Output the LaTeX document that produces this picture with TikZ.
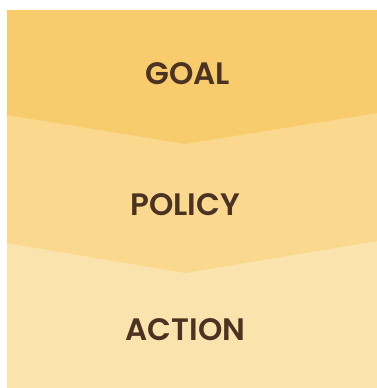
\documentclass[tikz,border=0pt]{standalone}
\usepackage{fontspec}
\setmainfont{Poppins}[BoldFont={Poppins SemiBold}]
\definecolor{cgoal}{HTML}{F8CC6C}
\definecolor{cpolicy}{HTML}{FAD98F}
\definecolor{caction}{HTML}{FBE3AD}
\definecolor{ctext}{HTML}{4A3322}
\begin{document}
\begin{tikzpicture}[x=1pt,y=-1pt,
  lbl/.style={inner sep=0pt,text=ctext,font=\fontsize{31}{35}\selectfont\bfseries}]
\useasboundingbox (0,0) rectangle (377,388);
\fill[caction] (7,10) rectangle (377,388);
\fill[cpolicy] (7,10) -- (377,10) -- (377,241) -- (185,273) -- (7,243) -- cycle;
\fill[cgoal] (7,10) -- (377,10) -- (377,113) -- (185,144) -- (7,115) -- cycle;
\node[lbl] (goal) at (187.5,73.5) {GOAL};
\node[lbl] (policy) at (185,204.5) {POLICY};
\node[lbl] (action) at (185.5,330) {ACTION};
\end{tikzpicture}
\end{document}
